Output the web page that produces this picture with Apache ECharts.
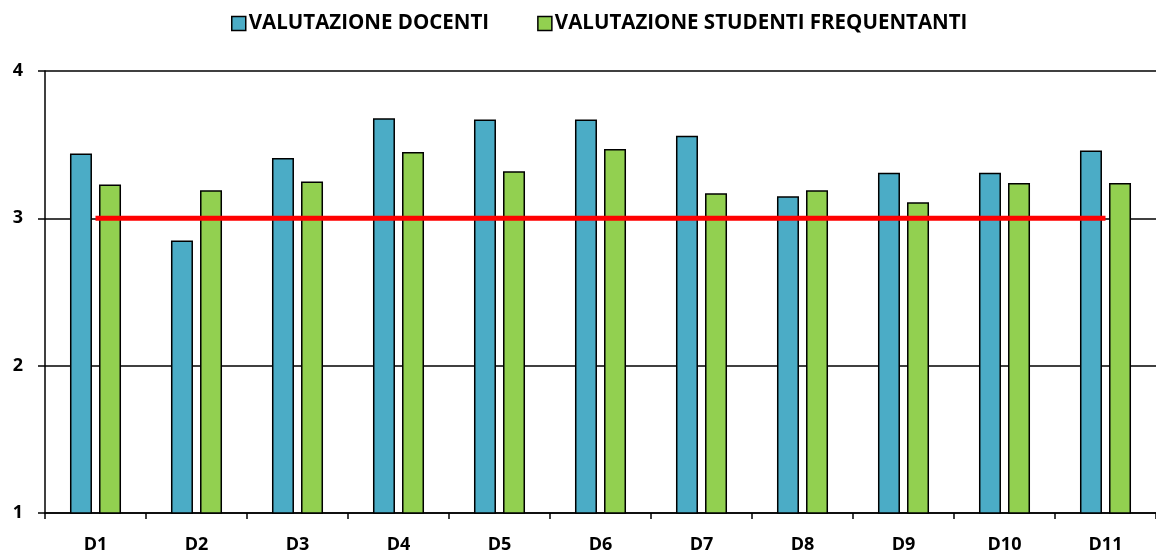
<!DOCTYPE html>
<html><head><meta charset="utf-8">
<script src="https://cdn.jsdelivr.net/npm/echarts@6/dist/echarts.min.js"></script>
<style>html,body{margin:0;padding:0;background:#fff}#c{width:1156px;height:556px}</style>
</head><body><div id="c"></div>
<script>
const categories = ['D1','D2','D3','D4','D5','D6','D7','D8','D9','D10','D11'];
const docenti = [3.44,2.85,3.41,3.68,3.67,3.67,3.56,3.15,3.31,3.31,3.46];
const studenti = [3.23,3.19,3.25,3.45,3.32,3.47,3.17,3.19,3.11,3.24,3.24];
const soglia = [3,3,3,3,3,3,3,3,3,3,3];
const yTicks = [1,2,3,4];
const seriesNames = ['VALUTAZIONE DOCENTI','VALUTAZIONE STUDENTI FREQUENTANTI'];

const font = '"Open Sans", sans-serif';
const chart = echarts.init(document.getElementById('c'));
chart.setOption({
  animation:false,
  legend:{
    top:8, left:226, itemWidth:14, itemHeight:14, itemGap:48, icon:'rect',
    data:seriesNames,
    textStyle:{fontFamily:font,fontWeight:'bold',fontSize:20.5,color:'#000',padding:[0,0,0,-2]},
    itemStyle:{borderColor:'#000',borderWidth:1.5}
  },
  grid:{left:45,top:71,width:1115,bottom:43,containLabel:false},
  xAxis:{
    type:'category', data:categories,
    axisLine:{lineStyle:{color:'#000',width:1.5}},
    axisTick:{show:true,length:6,lineStyle:{color:'#000',width:1.5},alignWithLabel:false},
    axisLabel:{fontFamily:font,fontWeight:'bold',fontSize:18,color:'#000',margin:23}
  },
  yAxis:{
    type:'value', min:yTicks[0], max:yTicks[yTicks.length-1], interval:1,
    axisLine:{show:true,lineStyle:{color:'#000',width:1.5}},
    axisTick:{show:true,length:7,lineStyle:{color:'#000',width:1.5}},
    splitLine:{lineStyle:{color:'#000',width:1.5}},
    axisLabel:{fontFamily:font,fontWeight:'bold',fontSize:18,color:'#000',margin:22}
  },
  series:[
    {name:seriesNames[0],type:'bar',data:docenti,barWidth:22,barGap:'32%',
     itemStyle:{color:'#4BACC6',borderColor:'#000',borderWidth:1.5}},
    {name:seriesNames[1],type:'bar',data:studenti,barWidth:22,barGap:'32%',
     itemStyle:{color:'#92D050',borderColor:'#000',borderWidth:1.5}},
    {name:'soglia',type:'line',data:soglia,symbol:'none',z:5,
     lineStyle:{color:'#FF0000',width:5}}
  ]
});
</script></body></html>
